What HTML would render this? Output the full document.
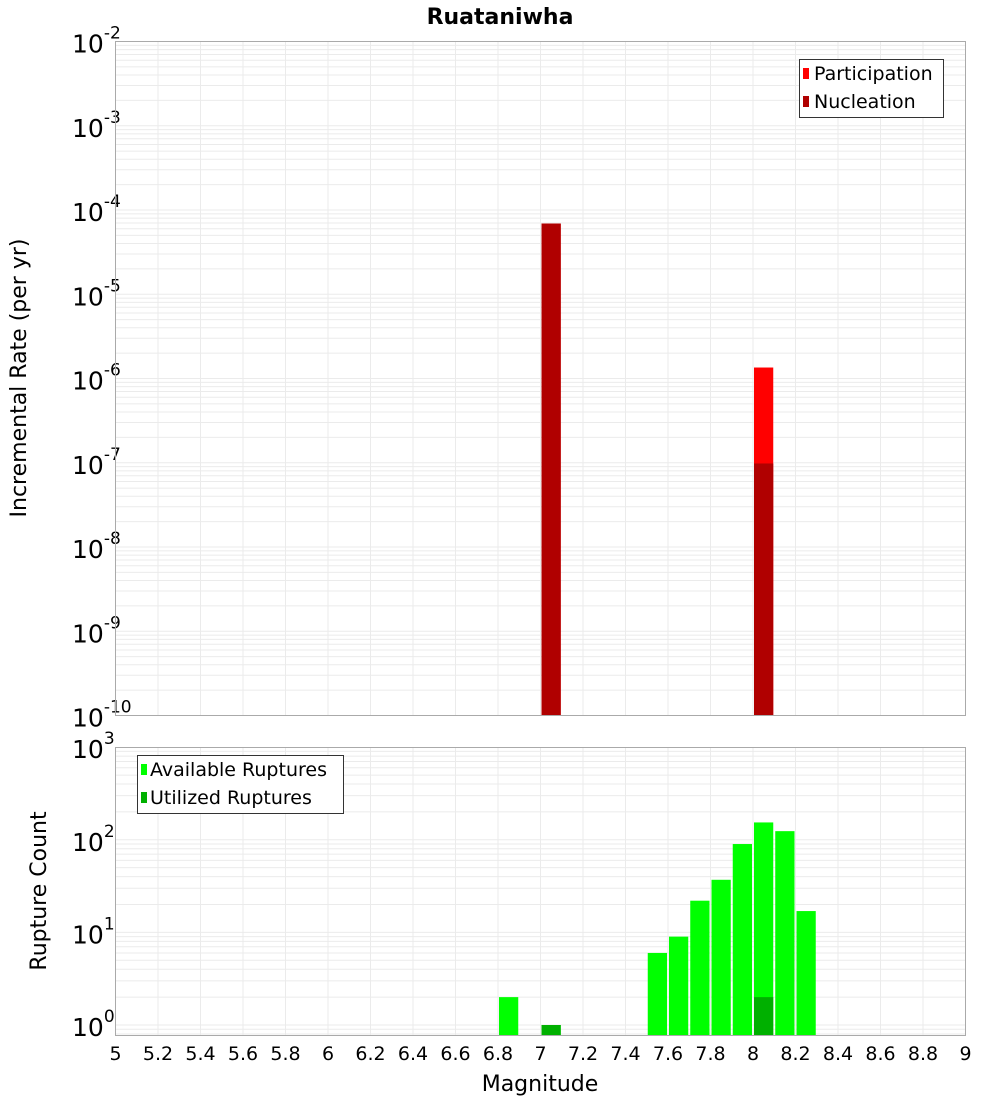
<!DOCTYPE html>
<html><head><meta charset="utf-8"><style>
html,body{margin:0;padding:0;background:#fff;}
svg{display:block;font-family:"DejaVu Sans","Liberation Sans",sans-serif;}
</style></head><body>
<svg id="chart" width="1000" height="1100" viewBox="0 0 1000 1100" xmlns="http://www.w3.org/2000/svg">
<g id="topplot"></g>
<g id="botplot"></g>
<text x="500" y="24" text-anchor="middle" font-size="22" font-weight="bold">Ruataniwha</text>
<text transform="translate(26,378) rotate(-90)" text-anchor="middle" font-size="22">Incremental Rate (per yr)</text>
<text transform="translate(46,891) rotate(-90)" text-anchor="middle" font-size="22">Rupture Count</text>
<text x="540" y="1091" text-anchor="middle" font-size="22">Magnitude</text>
<g>
<rect x="799.5" y="59.5" width="144" height="58" fill="#fff" stroke="#333"/>
<rect x="803" y="68" width="6" height="11" fill="#ff0000"/>
<text x="814" y="80" font-size="19">Participation</text>
<rect x="803" y="96" width="6" height="11" fill="#b00000"/>
<text x="814" y="108" font-size="19">Nucleation</text>
</g>
<g>
<rect x="137.5" y="755.5" width="206" height="58" fill="#fff" stroke="#333"/>
<rect x="141" y="764" width="6" height="11" fill="#00ff00"/>
<text x="150" y="776" font-size="19">Available Ruptures</text>
<rect x="141" y="792" width="6" height="11" fill="#00b000"/>
<text x="150" y="804" font-size="19">Utilized Ruptures</text>
</g>
</svg>
<script>
const mags = [6.85, 7.05, 7.55, 7.65, 7.75, 7.85, 7.95, 8.05, 8.15, 8.25];
const participation = [0, 6.9e-5, 0, 0, 0, 0, 0, 1.35e-6, 0, 0];
const nucleation = [0, 6.9e-5, 0, 0, 0, 0, 0, 9.8e-8, 0, 0];
const available = [2, 1, 6, 9, 22, 37, 90, 154, 124, 17];
const utilized = [0, 1, 0, 0, 0, 0, 0, 2, 0, 0];
const xTicks = [5,5.2,5.4,5.6,5.8,6,6.2,6.4,6.6,6.8,7,7.2,7.4,7.6,7.8,8,8.2,8.4,8.6,8.8,9];
const topExps = [-10,-9,-8,-7,-6,-5,-4,-3,-2];
const botExps = [0,1,2,3];

const NS='http://www.w3.org/2000/svg';
const L=115.5, R=965.5;
const xs = m => L + (m-5)/4*(R-L);
const T1=41.5, B1=715.5;
const yTop = v => T1 + (-2 - Math.log10(v))*(B1-T1)/8;
const T2=747.5, B2=1035.5;
const yBot = v => 1025 - Math.log10(v)*92.6;
function mk(p,tag,a){const e=document.createElementNS(NS,tag);for(const k in a)e.setAttribute(k,a[k]);p.appendChild(e);return e;}

function frame(g,T,B,exps,yf,isTop){
  mk(g,'rect',{x:L,y:T,width:R-L,height:B-T,fill:'#fff'});
  const startE = isTop ? exps[0] : exps[0]-1;
  for(let e=startE;e<=exps[exps.length-1];e++){
    for(let k=1;k<=9;k++){
      const yy=yf(k*Math.pow(10,e));
      if(yy<T||yy>B) continue;
      const ln=mk(g,'line',{x1:L,x2:R,y1:yy,y2:yy,stroke:'#ebebeb','stroke-width':1});
      
      
    }
  }
  for(let i=0;i<exps.length;i++){
    const e=exps[i];
    const yy=yf(Math.pow(10,e));
    const t=mk(g,'text',{x:72,y:yy+11,'font-size':25});
    
    
    t.textContent='10';
    const s=mk(t,'tspan',{dy:-14,'font-size':17});
    s.textContent=String(e);
  }
  for(let i=0;i<xTicks.length;i++){
    const xx=xs(xTicks[i]);
    const vl=mk(g,'line',{x1:xx,x2:xx,y1:T,y2:B,stroke:'#ebebeb'});
    
    
  }
}
const topG=document.getElementById('topplot'), botG=document.getElementById('botplot');
frame(topG,T1,B1,topExps,yTop,true);
frame(botG,T2,B2,botExps,yBot,false);

function bars(g,vals,yf,B,color,name){
  for(let i=0;i<mags.length;i++){
    if(vals[i]<=0) continue;
    const x0=xs(mags[i]-0.05)+1, x1=xs(mags[i]+0.05)-1, yy=yf(vals[i]);
    const r=mk(g,'rect',{x:x0,y:yy,width:x1-x0,height:B-yy,fill:color});
    
    
  }
}
bars(topG,participation,yTop,B1,'#ff0000','participation');
bars(topG,nucleation,yTop,B1,'#b00000','nucleation');
bars(botG,available,yBot,B2,'#00ff00','available');
bars(botG,utilized,yBot,B2,'#00b000','utilized');

mk(topG,'rect',{x:L,y:T1,width:R-L,height:B1-T1,fill:'none',stroke:'#aaa'});
mk(botG,'rect',{x:L,y:T2,width:R-L,height:B2-T2,fill:'none',stroke:'#aaa'});
for(let i=0;i<xTicks.length;i++){
  const t=mk(botG,'text',{x:xs(xTicks[i]),y:1060,'text-anchor':'middle','font-size':19});
  
  
  t.textContent=String(xTicks[i]);
}
</script>
</body></html>
